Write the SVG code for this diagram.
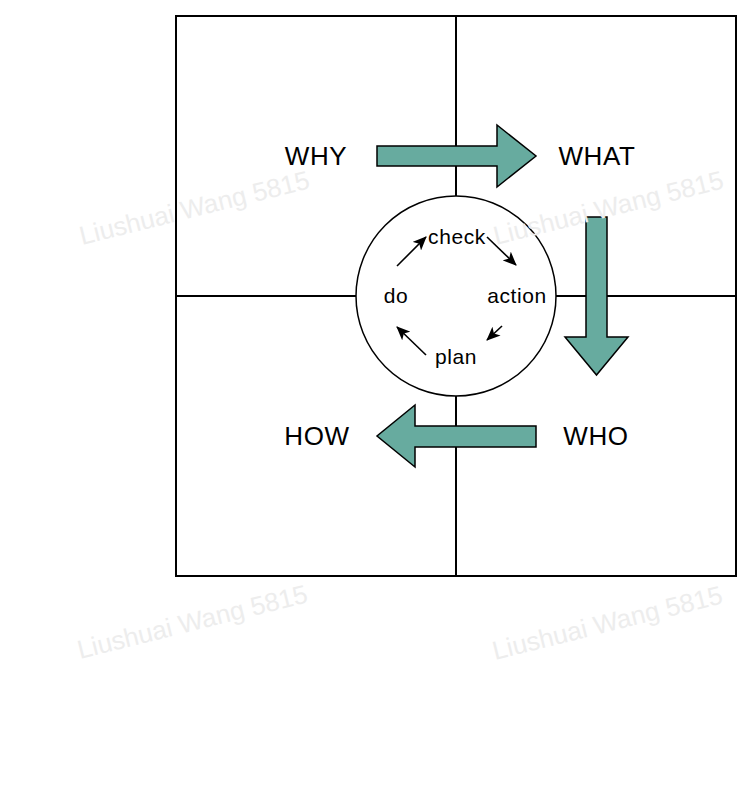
<svg xmlns="http://www.w3.org/2000/svg" width="754" height="794" viewBox="0 0 754 794">
  <style>
    .grid { fill: none; stroke: #000; stroke-width: 2; }
    .big { fill: #67AB9F; stroke: #000; stroke-width: 1.5; stroke-linejoin: miter; }
    .lbl { font-family: "Liberation Sans", Arial, sans-serif; font-size: 26px; letter-spacing: 0.6px; fill: #000; text-anchor: middle; }
    .inner { font-family: "Liberation Sans", Arial, sans-serif; font-size: 21px; letter-spacing: 0.6px; fill: #000; text-anchor: middle; }
    .conn { fill: none; stroke: #000; stroke-width: 1.6; }
    .wm { font-family: "Liberation Sans", Arial, sans-serif; font-size: 26px; fill: #ededed; }
  </style>
  <defs>
    <marker id="ah" viewBox="0 0 14 12" refX="13" refY="6" markerWidth="14" markerHeight="12" markerUnits="userSpaceOnUse" orient="auto">
      <path d="M0,0 L14,6 L0,12 L3.5,6 Z" fill="#000"/>
    </marker>
  </defs>
  <rect width="754" height="794" fill="#fff"/>

  <g id="grid">
    <rect class="grid" x="176" y="16" width="560" height="560"/>
    <line class="grid" x1="456" y1="16" x2="456" y2="576"/>
    <line class="grid" x1="176" y1="296" x2="736" y2="296"/>
  </g>

  <g id="cycle">
    <circle cx="456" cy="296" r="100" fill="#fff" stroke="#000" stroke-width="1.5"/>
  </g>

  <g id="arrow-why-what">
    <path class="big" d="M377,146 L497,146 L497,125 L536,156 L497,187 L497,166 L377,166 Z"/>
  </g>
  <g id="arrow-what-who">
    <path class="big" d="M586,217 L607,217 L607,337 L628,337 L596.5,375 L565,337 L586,337 Z"/>
  </g>
  <g id="arrow-who-how">
    <path class="big" d="M536,426 L415,426 L415,405 L377,436 L415,467 L415,447 L536,447 Z"/>
  </g>

  <g id="why"><text class="lbl" x="316" y="165">WHY</text></g>
  <g id="what"><text class="lbl" x="597" y="165">WHAT</text></g>
  <g id="how"><text class="lbl" x="317" y="445">HOW</text></g>
  <g id="who"><text class="lbl" x="596" y="445">WHO</text></g>

  <g id="check"><text class="inner" x="457" y="244">check</text></g>
  <g id="do"><text class="inner" x="396" y="303">do</text></g>
  <g id="action"><text class="inner" x="517" y="303">action</text></g>
  <g id="plan"><text class="inner" x="456" y="364">plan</text></g>

  <g id="connectors">
    <path class="conn" d="M397,266 L426,237" marker-end="url(#ah)"/>
    <path class="conn" d="M487,237 L516,265" marker-end="url(#ah)"/>
    <path class="conn" d="M502,326 L487,340" marker-end="url(#ah)"/>
    <path class="conn" d="M426,355 L397,327" marker-end="url(#ah)"/>
  </g>

  <g id="watermarks">
    <text class="wm" transform="translate(82,245) rotate(-14)">Liushuai Wang 5815</text>
    <text class="wm" transform="translate(496,245) rotate(-14)">Liushuai Wang 5815</text>
    <text class="wm" transform="translate(80,659) rotate(-14)">Liushuai Wang 5815</text>
    <text class="wm" transform="translate(495,660) rotate(-14)">Liushuai Wang 5815</text>
  </g>
</svg>
